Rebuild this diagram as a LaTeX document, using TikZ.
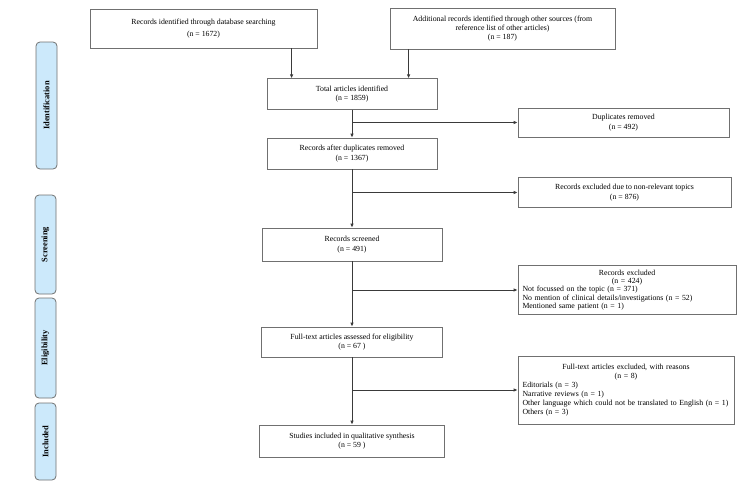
\documentclass[tikz,border=0pt]{standalone}
\usepackage{fontspec}
\setmainfont{Liberation Serif}
\usetikzlibrary{arrows.meta}
\definecolor{phasefill}{HTML}{CCE9FB}
\definecolor{boxline}{HTML}{707070}
\definecolor{arrline}{HTML}{3A3A3A}
\tikzset{
  box/.style={draw=boxline, line width=0.8pt, inner sep=4.5pt, align=center,
    font=\fontsize{7.8}{9.3}\selectfont},
  listbox/.style={draw=boxline, line width=0.8pt, inner sep=4.5pt,
    font=\fontsize{7.8}{8.4}\selectfont},
  phase/.style={draw=boxline, line width=0.8pt, fill=phasefill, rounded corners=4pt,
    rotate=90, minimum height=21pt, inner sep=0pt,
    font=\fontsize{8.4}{9}\selectfont\bfseries},
  arr/.style={draw=arrline, line width=0.8pt, -{Latex[length=4pt,width=3.6pt]}}
}
\begin{document}
\begin{tikzpicture}[x=1pt,y=-1pt]
\useasboundingbox (0,0) rectangle (750,493);
% phases
\node[phase, minimum width=127pt] (ph1) at (46.5,105.5) {Identification};
\node[phase, minimum width=99pt] (ph2) at (45.5,244.5) {Screening};
\node[phase, minimum width=100pt] (ph3) at (45.5,348) {Eligibility};
\node[phase, minimum width=77pt] (ph4) at (45.5,441.5) {Included};
% main boxes
\node[box, minimum width=227pt, minimum height=39pt, font=\fontsize{7.8}{12}\selectfont] (A) at (203.5,28.5)
  {Records identified through database searching\\(n = 1672)};
\node[box, minimum width=225pt, minimum height=41pt] (B) at (502.5,28.5)
  {Additional records identified through other sources (from\\reference list of other articles)\\(n = 187)};
\node[box, minimum width=170pt, minimum height=30.5pt] (C) at (352,94)
  {Total articles identified\\(n = 1859)};
\node[box, minimum width=170pt, minimum height=31pt] (D) at (352,153.5)
  {Records after duplicates removed\\(n = 1367)};
\node[box, minimum width=180pt, minimum height=33pt] (E) at (352,244.5)
  {Records screened\\(n = 491)};
\node[box, minimum width=181pt, minimum height=30pt] (F) at (352,342)
  {Full-text articles assessed for eligibility\\(n = 67 )};
\node[box, minimum width=185pt, minimum height=32pt] (G) at (352,441)
  {Studies included in qualitative synthesis\\(n = 59 )};
% side boxes
\node[box, minimum width=211pt, minimum height=29pt] (dup) at (623.5,122.5)
  {Duplicates removed\\(n = 492)};
\node[box, minimum width=213pt, minimum height=30pt] (nr) at (624.5,192.5)
  {Records excluded due to non-relevant topics\\(n = 876)};
\node[listbox, text width=209pt, minimum height=48pt] (re) at (627,290)
  {\centering Records excluded\\(n = 424)\par
   \raggedright Not focussed on the topic (n = 371)\\
   No mention of clinical details/investigations (n = 52)\\
   Mentioned same patient (n = 1)\par};
\node[listbox, text width=207pt, minimum height=68pt, font=\fontsize{7.8}{9}\selectfont] (fe) at (626,390)
  {\centering Full-text articles excluded, with reasons\\(n = 8)\par
   \raggedright Editorials (n = 3)\\
   Narrative reviews (n = 1)\\
   Other language which could not be translated to English (n = 1)\\
   Others (n = 3)\par};
% connectors
\draw[arr] ([xshift=202pt]A.south west) -- ([xshift=202pt]A.south west |- C.north);
\draw[arr] ([xshift=19pt]B.south west) -- ([xshift=19pt]B.south west |- C.north);
\draw[arr] (C.south) -- (D.north);
\draw[arr] (D.south) -- (E.north);
\draw[arr] (E.south) -- (F.north);
\draw[arr] (F.south) -- (G.north);
\draw[arr] (C.south |- dup.west) -- (dup.west);
\draw[arr] (D.south |- nr.west) -- (nr.west);
\draw[arr] (E.south |- re.west) -- (re.west);
\draw[arr] (F.south |- fe.west) -- (fe.west);
\end{tikzpicture}
\end{document}
